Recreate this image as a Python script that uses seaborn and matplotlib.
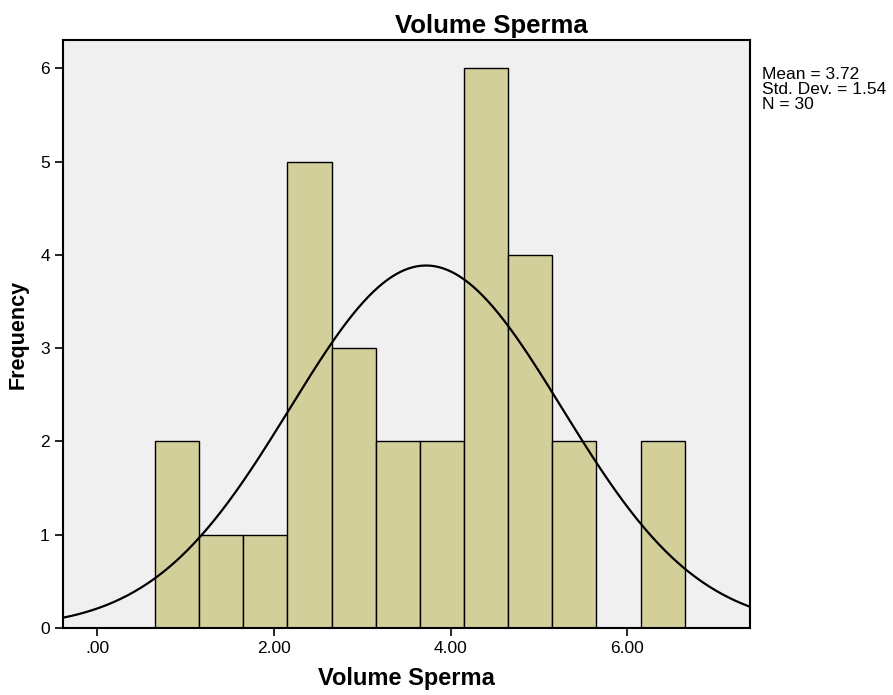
import numpy as np
import pandas as pd
import seaborn as sns
import matplotlib.pyplot as plt

# Histogram bins (width 0.5, starting at 0.65)
bin_edges = [0.65, 1.15, 1.65, 2.15, 2.65, 3.15, 3.65, 4.15, 4.65, 5.15, 5.65, 6.15, 6.65]
counts = [2, 1, 1, 5, 3, 2, 2, 6, 4, 2, 0, 2]

# Summary stats shown in the legend box
mean_val = 3.72
std_val = 1.54
n_val = 30

x_ticks = [0, 2, 4, 6]
x_tick_labels = [".00", "2.00", "4.00", "6.00"]
y_ticks = [0, 1, 2, 3, 4, 5, 6]

centers = [(a + b) / 2 for a, b in zip(bin_edges[:-1], bin_edges[1:])]
df = pd.DataFrame({"volume": centers, "count": counts})

sns.set_style("white")
plt.rcParams["font.family"] = ["Liberation Sans", "DejaVu Sans"]
plt.rcParams["text.color"] = "black"
plt.rcParams["axes.labelcolor"] = "black"
plt.rcParams["xtick.color"] = "black"
plt.rcParams["ytick.color"] = "black"

fig = plt.figure(figsize=(8.93, 6.95), dpi=100)
ax = fig.add_axes([0.0706, 0.0964, 0.7694, 0.8456])
ax.set_facecolor("#F0F0F0")

sns.histplot(data=df, x="volume", weights="count", bins=bin_edges,
             color="#D3CF9A", alpha=1, edgecolor="black", linewidth=1.0, ax=ax)

# normal curve scaled to the histogram
xlim = (-0.39, 7.39)
bin_w = bin_edges[1] - bin_edges[0]
xs = np.linspace(xlim[0], xlim[1], 400)
ys = n_val * bin_w / (std_val * np.sqrt(2 * np.pi)) * np.exp(-0.5 * ((xs - mean_val) / std_val) ** 2)
sns.lineplot(x=xs, y=ys, color="black", linewidth=1.6, ax=ax)

ax.set_xlim(xlim)
ax.set_ylim(0, 6.3)
ax.set_xticks(x_ticks)
ax.set_xticklabels(x_tick_labels)
ax.set_yticks(y_ticks)
ax.tick_params(axis="both", direction="out", length=6, width=1.2, color="black",
               labelcolor="black", labelsize=12.5, bottom=True, left=True)
for s in ax.spines.values():
    s.set_color("black")
    s.set_linewidth(1.5)

ax.set_title("Volume Sperma", fontsize=18.5, fontweight="bold", x=0.624, pad=5,
             color="black")
ax.set_xlabel("Volume Sperma", fontsize=17, fontweight="bold", labelpad=8)
ax.set_ylabel("Frequency", fontsize=15.5, fontweight="bold", labelpad=8)

fig.text(762 / 893, 1 - 67 / 695,
         f"Mean = {mean_val:.2f}\nStd. Dev. = {std_val:.2f}\nN = {n_val}",
         fontsize=12.5, va="top", ha="left", linespacing=1.0, color="black")

fig.savefig("out.png", dpi=100)
